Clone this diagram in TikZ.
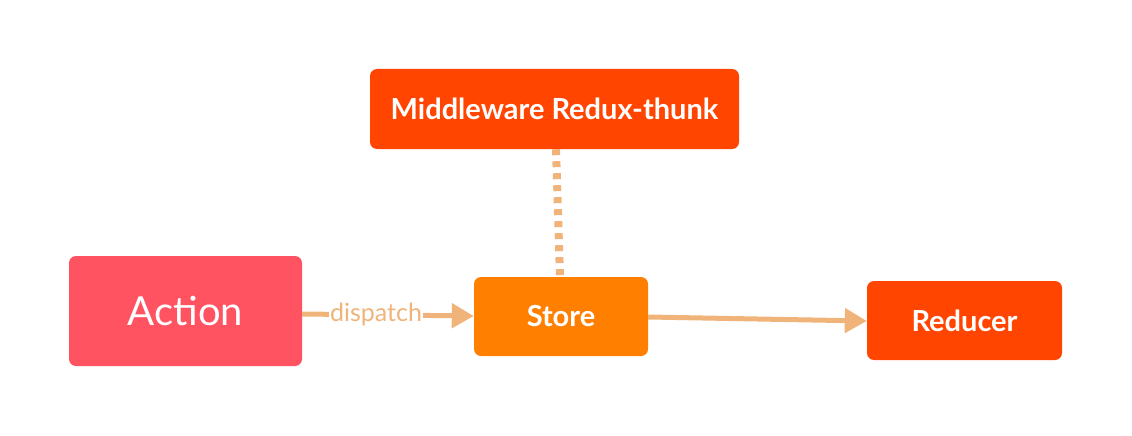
\documentclass[tikz,border=0pt]{standalone}
\usepackage{fontspec}
\setmainfont{Lato}
\usetikzlibrary{arrows.meta}
\definecolor{actionc}{RGB}{255,83,97}
\definecolor{storec}{RGB}{255,127,0}
\definecolor{redc}{RGB}{255,69,0}
\definecolor{linec}{RGB}{240,180,122}
\tikzset{
  box/.style={rounded corners=7pt, inner sep=0pt, text=white, font=\bfseries\fontsize{29}{33}\selectfont},
  conn/.style={draw=linec, line width=5pt, -{Triangle[length=22pt,width=24pt]}},
  dotconn/.style={draw=linec, line width=8pt, dash pattern=on 6pt off 6pt},
}
\begin{document}
\begin{tikzpicture}[x=1pt,y=-1pt]
\useasboundingbox (0,0) rectangle (1132,436);
\node[box, fill=actionc, minimum width=233pt, minimum height=110pt, font=\fontsize{40}{44}\selectfont] (action) at (185.5,311) {Action};
\node[box, fill=storec, minimum width=174pt, minimum height=79pt] (store) at (561,316.5) {Store};
\node[box, fill=redc, minimum width=369pt, minimum height=80pt] (mid) at (554.5,109) {Middleware Redux-thunk};
\node[box, fill=redc, minimum width=195pt, minimum height=79pt] (red) at (964.5,320.5) {Reducer};
\draw[conn] (action.east |- 0,314) -- node[pos=0.43, fill=white, inner sep=1pt, text=linec, font=\fontsize{25}{29}\selectfont] {dispatch} (store.west |- 0,316);
\draw[conn] (store.east |- 0,317) -- (red.west |- 0,321);
\draw[dotconn] (mid.south -| 556,0) -- (store.north -| 560,0);
\end{tikzpicture}
\end{document}
